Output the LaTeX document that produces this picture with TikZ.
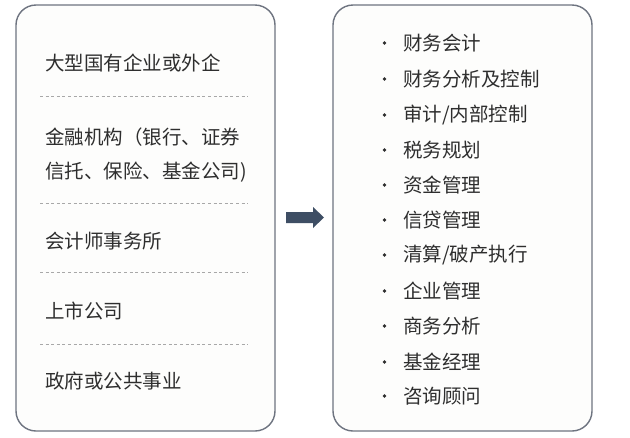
\documentclass[tikz,border=0pt]{standalone}
\usepackage{fontspec}
\setmainfont{Noto Sans CJK SC}
\newfontfamily\cjk{Noto Sans CJK SC}
\definecolor{boxline}{HTML}{6E7480}
\definecolor{boxfill}{HTML}{FDFDFC}
\definecolor{txt}{HTML}{2E2E2E}
\definecolor{dashc}{HTML}{A8A8A8}
\definecolor{arrowc}{HTML}{3E4E64}
\begin{document}
\begin{tikzpicture}[x=1pt,y=-1pt,
  panel/.style={draw=boxline,line width=1.4pt,fill=boxfill,rounded corners=20pt},
  lefttext/.style={anchor=west,inner sep=0pt,text=txt,font=\cjk\fontsize{19.5}{22}\selectfont},
  itemtext/.style={anchor=west,inner sep=0pt,text=txt,font=\cjk\fontsize{19.5}{22}\selectfont},
  bullet/.style={circle,fill=txt,inner sep=0pt,minimum size=3.6pt},
  sep/.style={draw=dashc,line width=0.8pt,dash pattern=on 3pt off 2.6pt}]
\useasboundingbox (0,0) rectangle (630,437);
\fill[white] (0,0) rectangle (630,437);
% panels
\draw[panel] (16,5) rectangle (275,431);
\draw[panel] (333,5) rectangle (592,431);
% left texts
\node[lefttext] (l1) at (45,63) {大型国有企业或外企};
\node[lefttext] (l2a) at (45,137) {金融机构（银行、证券};
\node[lefttext] (l2b) at (45,172) {信托、保险、基金公司)};
\node[lefttext] (l3) at (45,241) {会计师事务所};
\node[lefttext] (l4) at (45,311) {上市公司};
\node[lefttext] (l5) at (45,381) {政府或公共事业};
% separators
\coordinate (d1a) at (40,96);  \coordinate (d1b) at (248,96);
\coordinate (d2a) at (40,203); \coordinate (d2b) at (248,203);
\coordinate (d3a) at (40,272); \coordinate (d3b) at (248,272);
\coordinate (d4a) at (40,344); \coordinate (d4b) at (248,344);
\draw[sep] (d1a) -- (d1b);
\draw[sep] (d2a) -- (d2b);
\draw[sep] (d3a) -- (d3b);
\draw[sep] (d4a) -- (d4b);
% arrow
\fill[arrowc] (286,212) -- (313,212) -- (313,207) -- (324,217.5) -- (313,228) -- (313,223) -- (286,223) -- cycle;
% right items
\foreach \y/\t [count=\i] in {43/{财务会计},79/{财务分析及控制},115/{审计/内部控制},150/{税务规划},185/{资金管理},220/{信贷管理},255/{清算/破产执行},291/{企业管理},326/{商务分析},362/{基金经理},396/{咨询顾问}}{
  \node[bullet] (b\i) at (384.5,\y) {};
  \node[itemtext] (r\i) at (403,\y) {\t};
}
\end{tikzpicture}
\end{document}
